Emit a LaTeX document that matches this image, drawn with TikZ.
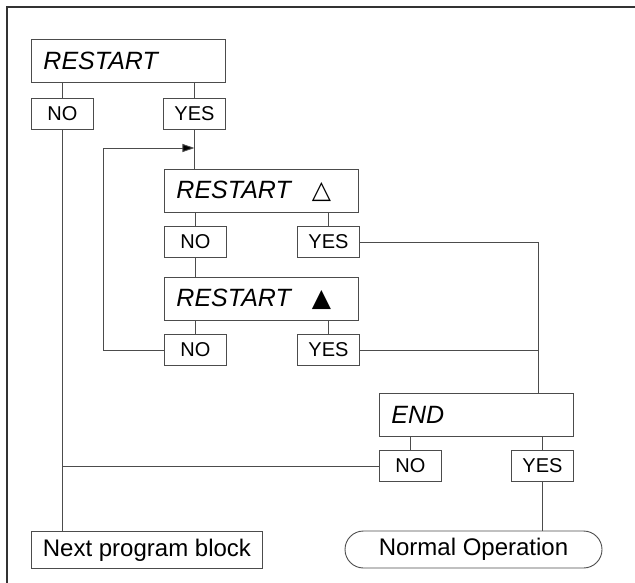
\documentclass[tikz,border=0pt]{standalone}
\usepackage{fontspec}
\setmainfont{Liberation Sans}
\newfontfamily\symfont{DejaVu Sans}
\usetikzlibrary{arrows.meta,shapes.misc}

\begin{document}
\begin{tikzpicture}[x=1pt, y=-1pt, line width=0.9pt, draw=black!70,
  >={Triangle[length=12pt,width=8pt,fill=black]},
  head/.style={draw, anchor=north west, inner xsep=12pt, inner ysep=0pt,
    text width=170pt, align=left, minimum height=43pt,
    font=\fontsize{25pt}{30pt}\selectfont\itshape},
  answer/.style={draw, anchor=north west, inner sep=0pt,
    minimum width=62pt, minimum height=31pt,
    font=\fontsize{20pt}{24pt}\selectfont},
  finish/.style={draw, inner sep=0pt, minimum height=37pt,
    font=\fontsize{24pt}{28pt}\selectfont}]
  \useasboundingbox (0,0) rectangle (635,583);
  % frame
  \draw[black!80, line width=1.4pt] (7,583) -- (7,7) -- (635,7);

  \node[head] (r1) at (31,39) {RESTART};
  \node[answer] (no1) at (31,98) {NO};
  \node[answer] (yes1) at (163,98) {YES};

  \node[head] (r2) at (164,169) {RESTART\hspace{21pt}{\symfont\upshape △}};
  \node[answer] (no2) at (164,226) {NO};
  \node[answer] (yes2) at (297,226) {YES};

  \node[head] (r3) at (164,277) {RESTART\hspace{21pt}{\symfont\upshape ▲}};
  \node[answer] (no3) at (164,334) {NO};
  \node[answer] (yes3) at (297,334) {YES};

  \node[head] (end) at (379,393) {END};
  \node[answer] (no4) at (379,450) {NO};
  \node[answer] (yes4) at (511,450) {YES};

  \node[finish, anchor=north west, minimum width=231pt] (next) at (31,531) {Next program block};
  \node[finish, rounded rectangle, minimum width=257pt] (normal) at (473.5,549.5) {Normal Operation};

  \coordinate (loop) at (103,148);
  \coordinate (rail) at (538,393);

  \draw (r1.south -| no1.north) -- (no1.north);
  \draw (r1.south -| yes1.north) -- (yes1.north);
  \draw (no1.south) -- (no1.south |- next.north);
  \draw (yes1.south) -- (yes1.south |- r2.north);
  \draw[->] (no3.west) -| (loop) -- (loop -| yes1.south);

  \draw (r2.south -| no2.north) -- (no2.north);
  \draw (r2.south -| yes2.north) -- (yes2.north);
  \draw (no2.south) -- (no2.south |- r3.north);
  \draw (r3.south -| no3.north) -- (no3.north);
  \draw (r3.south -| yes3.north) -- (yes3.north);

  \draw (yes2.east) -| (rail);
  \draw (yes3.east) -- (yes3.east -| rail);

  \draw (end.south -| no4.north) -- (no4.north);
  \draw (end.south -| yes4.north) -- (yes4.north);
  \draw (no4.west) -- (no4.west -| no1.south);
  \draw (yes4.south) -- (yes4.south |- normal.north);
\end{tikzpicture}
\end{document}
